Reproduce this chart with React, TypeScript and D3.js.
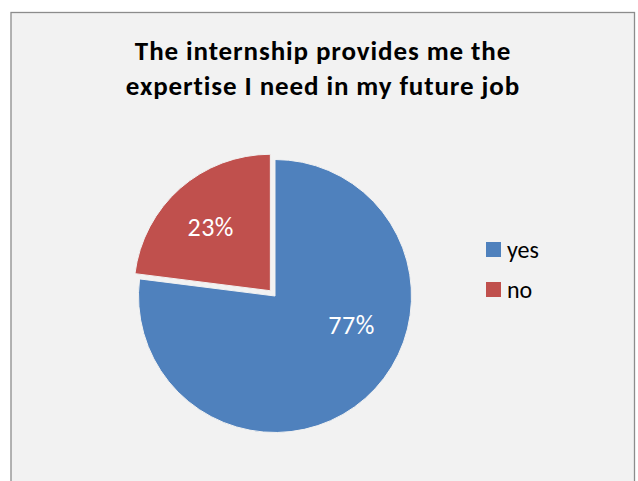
import React from "react";
import * as d3 from "d3";

const categories = ["yes", "no"];
const values = [77, 23];
const colors = ["#4F81BD", "#C0504D"];
const titleLines = ["The internship provides me the", "expertise I need in my future job"];
// where along each slice (fraction of its sweep) and how far out (fraction of radius) the label sits
const labelAlong = [0.4, 0.48];
const labelOut = [0.6, 0.64];

export default function App() {
  const W = 638, H = 481;
  const cx = 275, cy = 296, r = 136.5;
  const pie = d3.pie<number>().sort(null).value((d) => d);
  const arcs = pie(values);
  const arc = d3.arc<d3.PieArcDatum<number>>().innerRadius(0).outerRadius(r);
  const explode = [0, 7];
  const font = "Carlito, Calibri, Lato, 'Open Sans', sans-serif";
  return (
    <svg width={W} height={H} style={{ position: "absolute", left: 0, top: 0 }}>
      <rect x={0} y={0} width={W} height={H} fill="#ffffff" />
      <rect x={11} y={12.5} width={623.5} height={H + 10} fill="#f2f2f2" stroke="#8c8c8c" strokeWidth={1.3} />
      {titleLines.map((t, i) => (
        <text key={i} x={323} y={59.5 + i * 35.5} textAnchor="middle" fontFamily={font} fontWeight="bold" fontSize={27} letterSpacing={0.9} fill="#000">
          {t}
        </text>
      ))}
      {arcs.map((a, i) => {
        const mid = (a.startAngle + a.endAngle) / 2;
        const dx = Math.sin(mid) * explode[i];
        const dy = -Math.cos(mid) * explode[i];
        const la = a.startAngle + (a.endAngle - a.startAngle) * labelAlong[i];
        const lr = r * labelOut[i];
        const lx = Math.sin(la) * lr;
        const ly = -Math.cos(la) * lr;
        return (
          <g key={i} transform={`translate(${cx + dx},${cy + dy})`}>
            <path d={arc(a) || ""} fill={colors[i]} stroke="#f2f2f2" strokeWidth={1} />
            <text x={lx} y={ly} textAnchor="middle" dominantBaseline="central" fontFamily={font} fontSize={26} letterSpacing={0.5} fill="#fff">
              {values[i]}%
            </text>
          </g>
        );
      })}
      {categories.map((c, i) => (
        <g key={c} transform={`translate(486,${242 + i * 40})`}>
          <rect x={0} y={0} width={15} height={15} fill={colors[i]} />
          <text x={21} y={15.5} fontFamily={font} fontSize={24} fill="#000">{c}</text>
        </g>
      ))}
    </svg>
  );
}
